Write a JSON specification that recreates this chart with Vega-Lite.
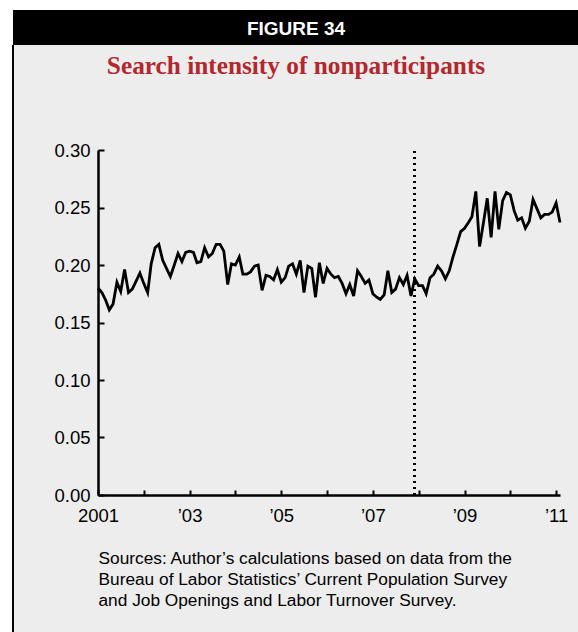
{
  "$schema": "https://vega.github.io/schema/vega-lite/v6.json",
  "background": "white",
  "padding": {"left": 12, "top": 10, "right": 0, "bottom": 0},
  "spacing": 0,
  "bounds": "flush",
  "config": {"font": "Liberation Sans", "view": {"stroke": null}},
  "vconcat": [
    {
      "width": 566,
      "height": 35,
      "view": {"fill": "black", "stroke": null},
      "data": {"values": [{"label": "FIGURE 34"}]},
      "mark": {"type": "text", "color": "white", "font": "Liberation Sans", "fontSize": 19, "fontWeight": "bold", "baseline": "middle", "align": "center", "dy": 1},
      "encoding": {"text": {"field": "label", "type": "nominal"}}
    },
    {
      "width": 566,
      "height": 587,
      "view": {"fill": "#ededed", "stroke": "black", "strokeWidth": 2, "strokeDash": [0, 1719, 587, 0]},
      "title": {
        "text": "Search intensity of nonparticipants",
        "orient": "top",
        "anchor": "middle",
        "frame": "group",
        "baseline": "alphabetic",
        "offset": -54,
        "font": "Liberation Serif",
        "fontSize": 25.3,
        "fontWeight": "bold",
        "color": "#b3282d"
      },
      "data": {"values": [
        {"date": "2001-01-01", "value": 0.180},
        {"date": "2001-02-01", "value": 0.176},
        {"date": "2001-03-01", "value": 0.170},
        {"date": "2001-04-01", "value": 0.161},
        {"date": "2001-05-01", "value": 0.166},
        {"date": "2001-06-01", "value": 0.185},
        {"date": "2001-07-01", "value": 0.177},
        {"date": "2001-08-01", "value": 0.196},
        {"date": "2001-09-01", "value": 0.176},
        {"date": "2001-10-01", "value": 0.179},
        {"date": "2001-11-01", "value": 0.186},
        {"date": "2001-12-01", "value": 0.193},
        {"date": "2002-01-01", "value": 0.184},
        {"date": "2002-02-01", "value": 0.176},
        {"date": "2002-03-01", "value": 0.201},
        {"date": "2002-04-01", "value": 0.215},
        {"date": "2002-05-01", "value": 0.218},
        {"date": "2002-06-01", "value": 0.204},
        {"date": "2002-07-01", "value": 0.197},
        {"date": "2002-08-01", "value": 0.190},
        {"date": "2002-09-01", "value": 0.200},
        {"date": "2002-10-01", "value": 0.210},
        {"date": "2002-11-01", "value": 0.203},
        {"date": "2002-12-01", "value": 0.211},
        {"date": "2003-01-01", "value": 0.212},
        {"date": "2003-02-01", "value": 0.211},
        {"date": "2003-03-01", "value": 0.202},
        {"date": "2003-04-01", "value": 0.203},
        {"date": "2003-05-01", "value": 0.215},
        {"date": "2003-06-01", "value": 0.207},
        {"date": "2003-07-01", "value": 0.210},
        {"date": "2003-08-01", "value": 0.218},
        {"date": "2003-09-01", "value": 0.218},
        {"date": "2003-10-01", "value": 0.212},
        {"date": "2003-11-01", "value": 0.183},
        {"date": "2003-12-01", "value": 0.201},
        {"date": "2004-01-01", "value": 0.200},
        {"date": "2004-02-01", "value": 0.207},
        {"date": "2004-03-01", "value": 0.192},
        {"date": "2004-04-01", "value": 0.192},
        {"date": "2004-05-01", "value": 0.194},
        {"date": "2004-06-01", "value": 0.199},
        {"date": "2004-07-01", "value": 0.200},
        {"date": "2004-08-01", "value": 0.178},
        {"date": "2004-09-01", "value": 0.191},
        {"date": "2004-10-01", "value": 0.190},
        {"date": "2004-11-01", "value": 0.187},
        {"date": "2004-12-01", "value": 0.196},
        {"date": "2005-01-01", "value": 0.185},
        {"date": "2005-02-01", "value": 0.189},
        {"date": "2005-03-01", "value": 0.199},
        {"date": "2005-04-01", "value": 0.201},
        {"date": "2005-05-01", "value": 0.192},
        {"date": "2005-06-01", "value": 0.204},
        {"date": "2005-07-01", "value": 0.176},
        {"date": "2005-08-01", "value": 0.199},
        {"date": "2005-09-01", "value": 0.197},
        {"date": "2005-10-01", "value": 0.172},
        {"date": "2005-11-01", "value": 0.202},
        {"date": "2005-12-01", "value": 0.184},
        {"date": "2006-01-01", "value": 0.197},
        {"date": "2006-02-01", "value": 0.192},
        {"date": "2006-03-01", "value": 0.189},
        {"date": "2006-04-01", "value": 0.190},
        {"date": "2006-05-01", "value": 0.184},
        {"date": "2006-06-01", "value": 0.175},
        {"date": "2006-07-01", "value": 0.183},
        {"date": "2006-08-01", "value": 0.173},
        {"date": "2006-09-01", "value": 0.195},
        {"date": "2006-10-01", "value": 0.190},
        {"date": "2006-11-01", "value": 0.184},
        {"date": "2006-12-01", "value": 0.187},
        {"date": "2007-01-01", "value": 0.175},
        {"date": "2007-02-01", "value": 0.172},
        {"date": "2007-03-01", "value": 0.170},
        {"date": "2007-04-01", "value": 0.174},
        {"date": "2007-05-01", "value": 0.195},
        {"date": "2007-06-01", "value": 0.176},
        {"date": "2007-07-01", "value": 0.179},
        {"date": "2007-08-01", "value": 0.189},
        {"date": "2007-09-01", "value": 0.183},
        {"date": "2007-10-01", "value": 0.191},
        {"date": "2007-11-01", "value": 0.173},
        {"date": "2007-12-01", "value": 0.188},
        {"date": "2008-01-01", "value": 0.182},
        {"date": "2008-02-01", "value": 0.182},
        {"date": "2008-03-01", "value": 0.175},
        {"date": "2008-04-01", "value": 0.189},
        {"date": "2008-05-01", "value": 0.192},
        {"date": "2008-06-01", "value": 0.199},
        {"date": "2008-07-01", "value": 0.195},
        {"date": "2008-08-01", "value": 0.188},
        {"date": "2008-09-01", "value": 0.195},
        {"date": "2008-10-01", "value": 0.207},
        {"date": "2008-11-01", "value": 0.218},
        {"date": "2008-12-01", "value": 0.229},
        {"date": "2009-01-01", "value": 0.232},
        {"date": "2009-02-01", "value": 0.237},
        {"date": "2009-03-01", "value": 0.242},
        {"date": "2009-04-01", "value": 0.264},
        {"date": "2009-05-01", "value": 0.216},
        {"date": "2009-06-01", "value": 0.237},
        {"date": "2009-07-01", "value": 0.258},
        {"date": "2009-08-01", "value": 0.224},
        {"date": "2009-09-01", "value": 0.264},
        {"date": "2009-10-01", "value": 0.231},
        {"date": "2009-11-01", "value": 0.256},
        {"date": "2009-12-01", "value": 0.263},
        {"date": "2010-01-01", "value": 0.261},
        {"date": "2010-02-01", "value": 0.247},
        {"date": "2010-03-01", "value": 0.239},
        {"date": "2010-04-01", "value": 0.241},
        {"date": "2010-05-01", "value": 0.232},
        {"date": "2010-06-01", "value": 0.238},
        {"date": "2010-07-01", "value": 0.257},
        {"date": "2010-08-01", "value": 0.249},
        {"date": "2010-09-01", "value": 0.241},
        {"date": "2010-10-01", "value": 0.244},
        {"date": "2010-11-01", "value": 0.244},
        {"date": "2010-12-01", "value": 0.246},
        {"date": "2011-01-01", "value": 0.254},
        {"date": "2011-02-01", "value": 0.237}
      ]},
      "layer": [
        {
          "mark": {"type": "rule", "color": "black", "strokeWidth": 2, "strokeDash": [2, 4]},
          "encoding": {
            "x": {"datum": {"year": 2007, "month": 12, "date": 1, "utc": true}, "type": "temporal"},
            "y": {"datum": 0, "type": "quantitative"},
            "y2": {"datum": 0.3}
          }
        },
        {
          "mark": {"type": "line", "color": "black", "strokeWidth": 2.8},
          "encoding": {
            "x": {
              "field": "date",
              "type": "temporal",
              "scale": {
                "type": "utc",
                "domain": [{"year": 2001, "month": 1, "date": 1, "utc": true}, {"year": 2011, "month": 2, "date": 1, "utc": true}],
                "range": [85, 547]
              },
              "axis": {
                "orient": "bottom",
                "offset": -137,
                "grid": false,
                "values": [
                  {"year": 2001, "month": 1, "date": 1, "utc": true},
                  {"year": 2002, "month": 1, "date": 1, "utc": true},
                  {"year": 2003, "month": 1, "date": 1, "utc": true},
                  {"year": 2004, "month": 1, "date": 1, "utc": true},
                  {"year": 2005, "month": 1, "date": 1, "utc": true},
                  {"year": 2006, "month": 1, "date": 1, "utc": true},
                  {"year": 2007, "month": 1, "date": 1, "utc": true},
                  {"year": 2008, "month": 1, "date": 1, "utc": true},
                  {"year": 2009, "month": 1, "date": 1, "utc": true},
                  {"year": 2010, "month": 1, "date": 1, "utc": true},
                  {"year": 2011, "month": 1, "date": 1, "utc": true}
                ],
                "labelExpr": "utcyear(datum.value) == 2001 ? '2001' : (utcyear(datum.value) % 2 == 1 ? '\u2019' + utcFormat(datum.value, '%y') : '')",
                "labelFont": "Liberation Sans",
                "labelFontSize": 18.5,
                "labelColor": "black",
                "labelPadding": 16,
                "labelOverlap": false,
                "labelFlush": false,
                "domainColor": "black",
                "domainWidth": 2.5,
                "tickColor": "black",
                "tickWidth": 2,
                "tickSize": -5,
                "title": [
                  "Sources: Author\u2019s calculations based on data from the",
                  "Bureau of Labor Statistics\u2019 Current Population Survey",
                  "and Job Openings and Labor Turnover Survey."
                ],
                "titleAnchor": "start",
                "titleAlign": "left",
                "titleBaseline": "top",
                "titleFont": "Liberation Sans",
                "titleFontSize": 17.3,
                "titleFontWeight": "normal",
                "titleColor": "black",
                "titleLineHeight": 20.8,
                "titlePadding": 25
              }
            },
            "y": {
              "field": "value",
              "type": "quantitative",
              "scale": {"domain": [0, 0.3], "range": [450, 105], "nice": false, "zero": true},
              "axis": {
                "offset": -85,
                "grid": false,
                "values": [0, 0.05, 0.1, 0.15, 0.2, 0.25, 0.3],
                "format": ".2f",
                "labelFont": "Liberation Sans",
                "labelFontSize": 18.5,
                "labelColor": "black",
                "labelPadding": 14,
                "domainColor": "black",
                "domainWidth": 2.5,
                "tickColor": "black",
                "tickWidth": 2,
                "tickSize": -6,
                "title": null
              }
            }
          }
        }
      ]
    }
  ]
}
